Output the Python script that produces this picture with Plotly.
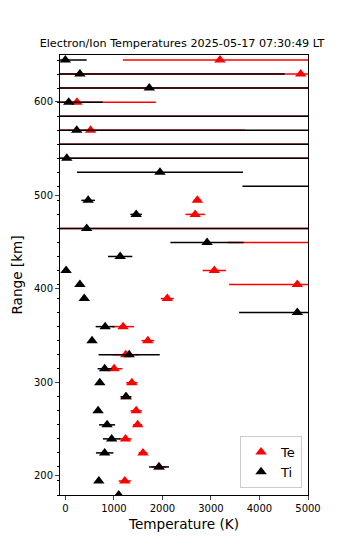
import numpy as np
import plotly.graph_objects as go

nan = float("nan")

range_km = [179.6, 194.6, 209.6, 224.6, 239.6, 254.6, 269.6, 284.6, 299.6, 314.6,
            329.6, 344.6, 359.6, 374.6, 389.6, 404.6, 419.6, 434.6, 449.6, 464.6,
            479.6, 494.6, 509.6, 524.6, 539.6, 554.6, 569.6, 584.6, 599.6, 614.6,
            629.6, 644.6]

ti = [1100, 690, 1930, 810, 955, 860, 675, 1250, 710, 810,
      1315, 550, 820, 4780, 390, 300, 15, 1130, 2920, 440,
      1460, 470, 6000, 1950, 30, 6000, 235, 6000, 70, 1730,
      300, 0]
ti_err = [0, 0, 205, 180, 180, 165, 0, 110, 0, 145,
          630, 0, 195, 1200, 0, 0, 0, 250, 755, 6000,
          120, 140, 2350, 1710, 6000, 9000, 6000, 9000, 700, 6000,
          4220, 440]

te = [nan, 1225, 1930, 1600, 1240, 1490, 1460, 1250, 1370, 1005,
      1245, 1700, 1190, nan, 2100, 4780, 3070, nan, 5600, 7000,
      2675, 2720, nan, nan, 7000, 7000, 520, 7000, 240, 7000,
      4850, 3185]
te_err = [0, 125, 150, 90, 125, 95, 115, 110, 115, 170,
          270, 130, 225, 0, 135, 1405, 240, 0, 2250, 10000,
          200, 80, 0, 0, 10000, 10000, 3180, 10000, 1625, 10000,
          6000, 2000]

x_ticks = [0, 1000, 2000, 3000, 4000, 5000]
y_ticks = [200, 300, 400, 500, 600]

fig = go.Figure()
fig.add_trace(go.Scatter(
    x=te, y=range_km, mode="markers", name="Te",
    marker=dict(symbol="triangle-up", size=10, color="red"),
    error_x=dict(type="data", array=te_err, visible=True, color="red",
                 thickness=1.5, width=0),
))
fig.add_trace(go.Scatter(
    x=ti, y=range_km, mode="markers", name="Ti",
    marker=dict(symbol="triangle-up", size=10, color="black"),
    error_x=dict(type="data", array=ti_err, visible=True, color="black",
                 thickness=1.5, width=0),
))

fig.update_layout(
    width=350, height=550,
    margin=dict(l=60, r=42, t=55, b=55),
    paper_bgcolor="white", plot_bgcolor="white",
    font=dict(family="DejaVu Sans", color="black", size=10),
    title=dict(text="Electron/Ion Temperatures 2025-05-17 07:30:49 LT",
               x=0.52, xanchor="center", y=1 - 43 / 550, yanchor="middle",
               font=dict(size=11.2)),
    showlegend=True,
    legend=dict(x=0.976, y=0.016, xanchor="right", yanchor="bottom",
                bgcolor="rgba(255,255,255,0.8)", bordercolor="#cccccc",
                borderwidth=1, font=dict(size=13), tracegroupgap=2),
)
fig.update_xaxes(
    range=[-110, 5000], tickvals=x_ticks, ticktext=[str(v) for v in x_ticks],
    showgrid=False, zeroline=False, showline=True, mirror=True,
    linecolor="black", linewidth=1, ticks="outside", ticklen=4,
    title=dict(text="Temperature (K)", font=dict(size=13.6), standoff=6),
)
fig.update_yaxes(
    range=[179.6, 650], tickvals=y_ticks, ticktext=[str(v) for v in y_ticks],
    showgrid=False, zeroline=False, showline=True, mirror=True,
    linecolor="black", linewidth=1, ticks="outside", ticklen=4,
    minor=dict(tickmode="array", tickvals=range_km, ticks="outside",
               ticklen=2.5, tickcolor="black", showgrid=False),
    title=dict(text="Range [km]", font=dict(size=13.6), standoff=8),
)

fig.write_html("out.html")
